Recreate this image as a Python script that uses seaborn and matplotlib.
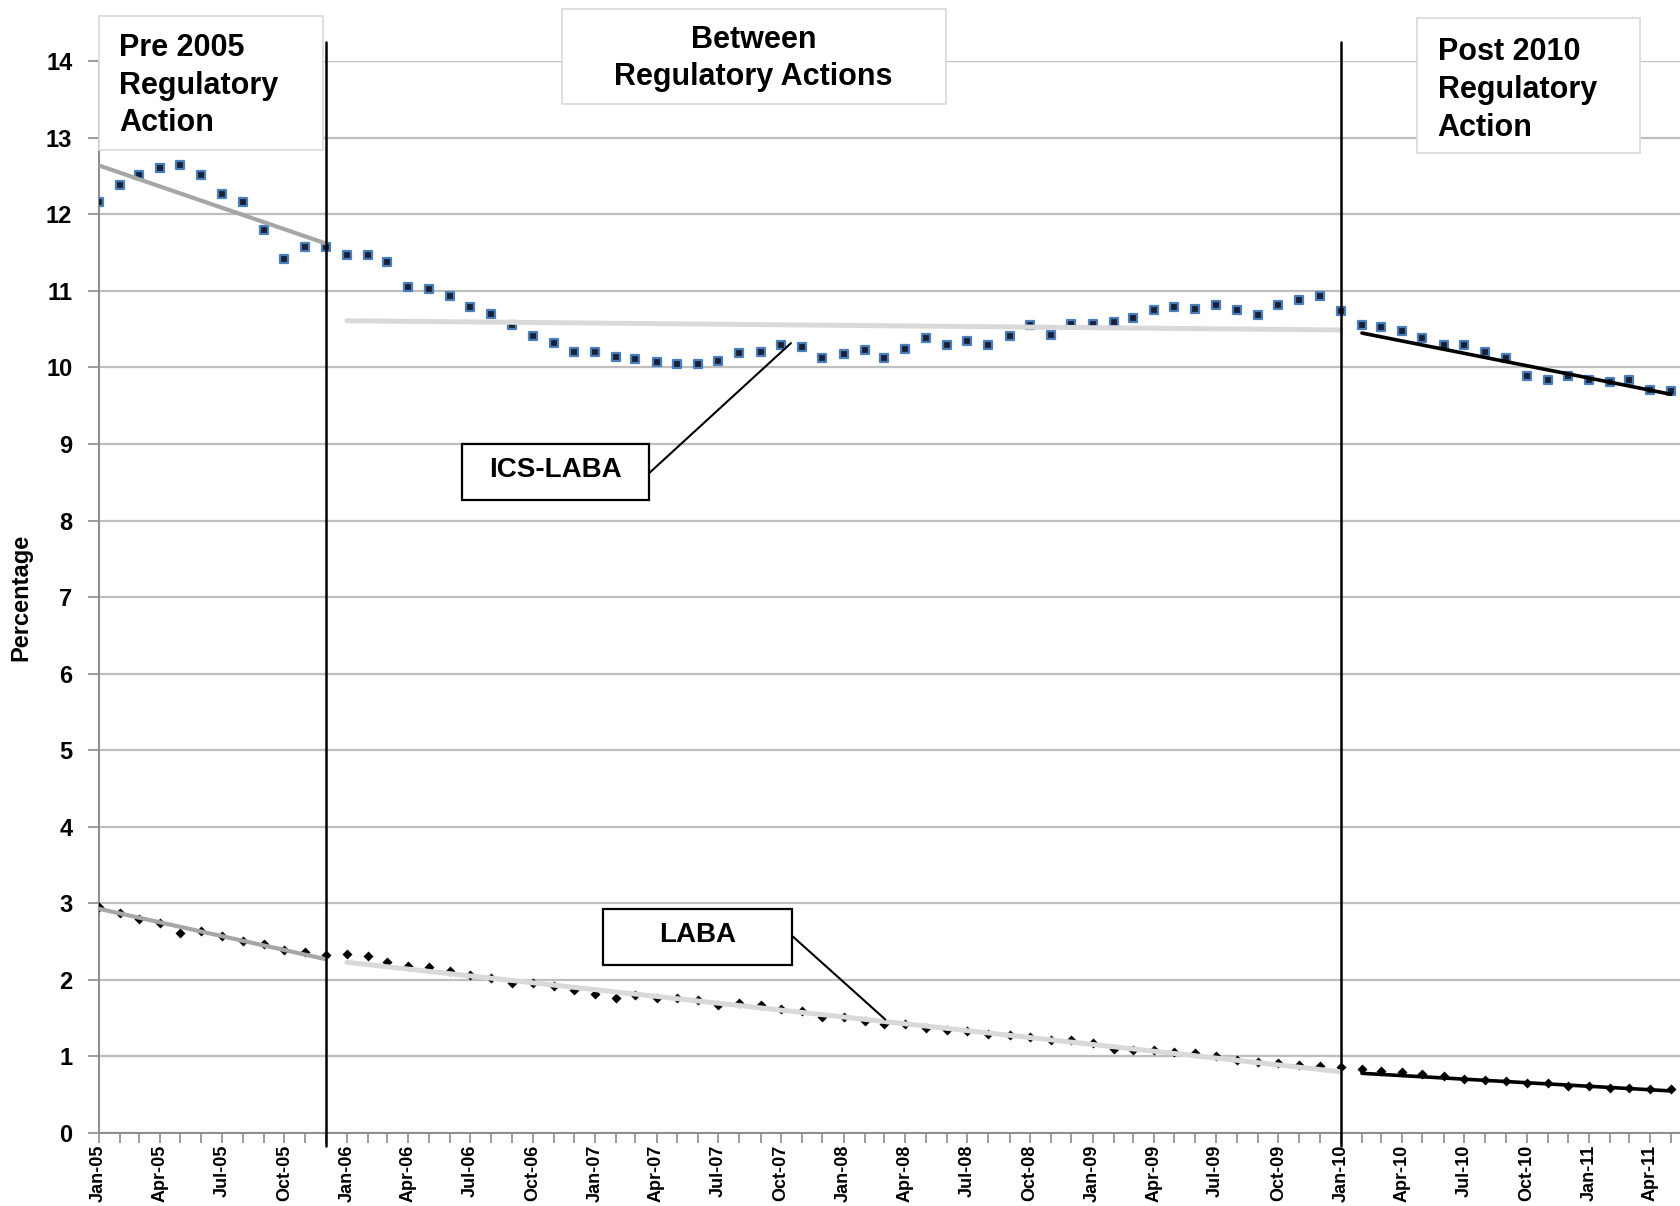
import pandas as pd
import matplotlib
matplotlib.use('Agg')
import matplotlib.pyplot as plt
import matplotlib.dates as mdates
from matplotlib.patches import Rectangle
import seaborn as sns

# monthly percentages, Jan-05 .. May-11
months = pd.date_range('2005-01-01', periods=77, freq='MS')

ics_laba = [12.16, 12.39, 12.51, 12.60, 12.64, 12.51, 12.26, 12.16, 11.79, 11.42, 11.58, 11.57,
            11.47, 11.47, 11.38, 11.05, 11.03, 10.94, 10.79, 10.70, 10.56, 10.41, 10.32,
            10.20, 10.20, 10.14, 10.11, 10.07, 10.04, 10.04, 10.08, 10.19, 10.20, 10.30, 10.27,
            10.13, 10.17, 10.23, 10.13, 10.24, 10.39, 10.30, 10.34, 10.30, 10.41, 10.56, 10.43,
            10.57, 10.57, 10.60, 10.64,
            10.75, 10.79, 10.77, 10.81, 10.75, 10.69, 10.81, 10.88, 10.93, 10.74, 10.56, 10.53,
            10.48, 10.38, 10.30, 10.29, 10.20, 10.13, 9.89, 9.84, 9.89, 9.84, 9.81, 9.84, 9.70, 9.69]

laba = [2.95, 2.87, 2.80, 2.74, 2.61, 2.64, 2.57, 2.51, 2.47, 2.39, 2.37, 2.33,
        2.34, 2.31, 2.24, 2.18, 2.17, 2.12, 2.06, 2.02, 1.96, 1.96, 1.92, 1.87, 1.81,
        1.77, 1.80, 1.76, 1.76, 1.74, 1.67, 1.70, 1.67, 1.62, 1.59, 1.51, 1.51, 1.47, 1.43,
        1.42, 1.37, 1.34, 1.33, 1.30, 1.28, 1.25, 1.22, 1.21, 1.17, 1.10, 1.09, 1.08, 1.06,
        1.04, 1.00, 0.96, 0.93, 0.92, 0.89, 0.87, 0.86, 0.84, 0.81, 0.80, 0.77, 0.74, 0.71,
        0.69, 0.68, 0.66, 0.65, 0.62, 0.61, 0.59, 0.59, 0.57, 0.57]

# segment trend lines (start, end)
seg_idx = {'pre': (0, 11), 'mid': (12, 60), 'post': (61, 76)}
ics_trend = {'pre': [12.64, 11.62], 'mid': [10.61, 10.49], 'post': [10.45, 9.65]}
laba_trend = {'pre': [2.93, 2.27], 'mid': [2.23, 0.80], 'post': [0.78, 0.55]}
trend_style = {'pre': ('#a6a6a6', 3.0), 'mid': ('#d9d9d9', 3.6), 'post': ('#000000', 2.6)}

actions = [pd.Timestamp('2005-12-01'), pd.Timestamp('2010-01-01')]

sns.set_style('white')
plt.rcParams['font.family'] = ['Liberation Sans', 'DejaVu Sans']
plt.rcParams['font.weight'] = 'bold'
plt.rcParams['text.color'] = 'black'
plt.rcParams['axes.labelcolor'] = 'black'

fig = plt.figure(figsize=(16.81, 12.06), dpi=100)
ax = fig.add_axes([0.0587, 0.0605, 0.9413, 0.8887])

df = pd.DataFrame({'month': months, 'ics': ics_laba, 'laba': laba})

# trend lines
for key, (i0, i1) in seg_idx.items():
    col, lw = trend_style[key]
    xs = [months[i0], months[i1]]
    sns.lineplot(x=xs, y=ics_trend[key], color=col, linewidth=lw, ax=ax, zorder=4)
    sns.lineplot(x=xs, y=laba_trend[key], color=col, linewidth=lw, ax=ax, zorder=4)

sns.scatterplot(data=df, x='month', y='ics', marker='s', s=30, color='#1a1f33',
                edgecolor='#4a7ebb', linewidth=1.6, ax=ax, zorder=3)
sns.scatterplot(data=df, x='month', y='laba', marker='D', s=26, color='black',
                edgecolor='black', linewidth=0, ax=ax, zorder=3)

for d in actions:
    ax.plot([d, d], [-0.17, 14.25], color='black', linewidth=1.8, clip_on=False, zorder=5)

ax.set_ylim(0, 14)
ax.set_xlim(months[0], pd.Timestamp('2011-05-16'))
ax.set_yticks(range(0, 15))
ax.yaxis.grid(True, color='#bfbfbf', linewidth=1.6)
ax.xaxis.grid(False)
ax.set_axisbelow(True)

ax.xaxis.set_major_locator(mdates.MonthLocator(bymonth=[1, 4, 7, 10]))
ax.xaxis.set_minor_locator(mdates.MonthLocator())
ax.xaxis.set_major_formatter(mdates.DateFormatter('%b-%y'))
plt.setp(ax.get_xticklabels(), rotation=90, fontsize=13, fontweight='bold')
plt.setp(ax.get_yticklabels(), fontsize=17, fontweight='bold')
ax.tick_params(axis='x', which='both', direction='out', length=7, width=1.2,
               color='#8c8c8c', labelcolor='black', pad=1.5, bottom=True)
ax.tick_params(axis='y', direction='out', length=8, width=1.2, color='#8c8c8c',
               labelcolor='black', pad=11, left=True)

for s in ['top', 'right']:
    ax.spines[s].set_visible(False)
for s in ['left', 'bottom']:
    ax.spines[s].set_color('#8c8c8c')
    ax.spines[s].set_linewidth(1.4)

ax.set_xlabel('')
ax.set_ylabel('Percentage', fontsize=17, fontweight='bold', labelpad=10)

# series labels with leader lines
ax.add_patch(Rectangle((0.2296, 0.591), 0.1185, 0.052, transform=ax.transAxes,
                       facecolor='white', edgecolor='black', linewidth=1.6, zorder=6))
ax.text(0.2889, 0.619, 'ICS-LABA', transform=ax.transAxes, ha='center', va='center',
        fontsize=20, fontweight='bold', zorder=7)
ax.plot([0.3481, 0.4375], [0.616, 0.737], transform=ax.transAxes, color='black',
        linewidth=1.5, zorder=6)

ax.add_patch(Rectangle((0.3190, 0.157), 0.1192, 0.052, transform=ax.transAxes,
                       facecolor='white', edgecolor='black', linewidth=1.6, zorder=6))
ax.text(0.3786, 0.185, 'LABA', transform=ax.transAxes, ha='center', va='center',
        fontsize=20, fontweight='bold', zorder=7)
ax.plot([0.4382, 0.4971], [0.184, 0.106], transform=ax.transAxes, color='black',
        linewidth=1.5, zorder=6)

# period boxes
boxes = [
    ((0.0587, 0.8756), 0.1333, 0.1111, 0.0708, 0.9290, 'left', 'Pre 2005\nRegulatory\nAction'),
    ((0.3342, 0.9138), 0.2283, 0.0791, 0.4483, 0.9515, 'center', 'Between\nRegulatory Actions'),
    ((0.8431, 0.8729), 0.1327, 0.1120, 0.8552, 0.9255, 'left', 'Post 2010\nRegulatory\nAction'),
]
for (x0, y0), w, h, tx, ty, ha, label in boxes:
    fig.patches.append(Rectangle((x0, y0), w, h, transform=fig.transFigure, facecolor='white',
                                 edgecolor='#d9d9d9', linewidth=1.2, zorder=8))
    fig.text(tx, ty, label, ha=ha, va='center', multialignment=ha, fontsize=22,
             fontweight='bold', linespacing=1.34, zorder=9)

fig.savefig('out.png', dpi=100)
